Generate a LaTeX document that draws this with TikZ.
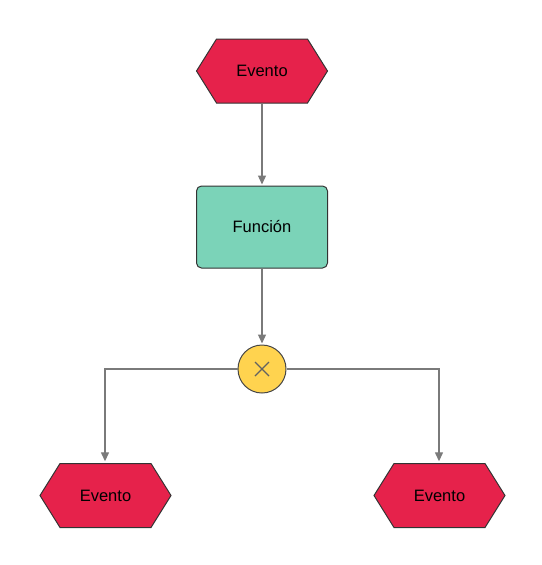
\documentclass[tikz,border=0pt]{standalone}
\usepackage{fontspec}
\setmainfont{Liberation Sans}
\usetikzlibrary{arrows.meta,calc}
\definecolor{evred}{HTML}{E6224B}
\definecolor{fnteal}{HTML}{7BD3B8}
\definecolor{gwyel}{HTML}{FFD34F}
\definecolor{edgec}{HTML}{333333}
\definecolor{linec}{HTML}{7A7A7A}
\tikzset{
  evt/.style={minimum width=133, minimum height=66, inner sep=0pt, font=\fontsize{16.5}{19}\selectfont,
    path picture={\draw[fill=evred, draw=edgec, line width=1pt, line join=miter]
      ([shift={(1,0)}]path picture bounding box.west) --
      ([shift={(21,-1)}]path picture bounding box.north west) --
      ([shift={(-21,-1)}]path picture bounding box.north east) --
      ([shift={(-1,0)}]path picture bounding box.east) --
      ([shift={(-21,1)}]path picture bounding box.south east) --
      ([shift={(21,1)}]path picture bounding box.south west) -- cycle;}},
  fn/.style={draw=edgec, fill=fnteal, line width=1pt, rounded corners=5pt, minimum width=131, minimum height=82, inner sep=0pt, font=\fontsize{16.5}{19}\selectfont},
  gw/.style={circle, draw=edgec!90, fill=gwyel, line width=1pt, minimum size=48, inner sep=0pt,
    path picture={\draw[linec!80!black, line width=1.1pt]
      ([shift={(-7,-7)}]path picture bounding box.center) -- ([shift={(7,7)}]path picture bounding box.center)
      ([shift={(-7,7)}]path picture bounding box.center) -- ([shift={(7,-7)}]path picture bounding box.center);}},
  conn/.style={draw=linec, line width=1.3pt, -{Triangle[length=9pt,width=8pt]}, shorten >=1pt}
}
\begin{document}
\begin{tikzpicture}[x=1pt,y=1pt]
\useasboundingbox (0,0) rectangle (541,-565);
\node[evt] (e1) at (262,-71) {Evento};
\node[fn] (f) at (262,-227) {\raisebox{1.5pt}{Función}};
\node[gw] (x) at (262,-369) {};
\node[evt] (e2) at (105.5,-495.5) {Evento};
\node[evt] (e3) at (439.5,-495.5) {Evento};
\draw[conn] (e1.south) -- (f.north);
\draw[conn] (f.south) -- (x.north);
\draw[conn] (x.west) -| ([xshift=-0.5pt]e2.north);
\draw[conn] (x.east) -| ([xshift=-0.5pt]e3.north);
\end{tikzpicture}
\end{document}
